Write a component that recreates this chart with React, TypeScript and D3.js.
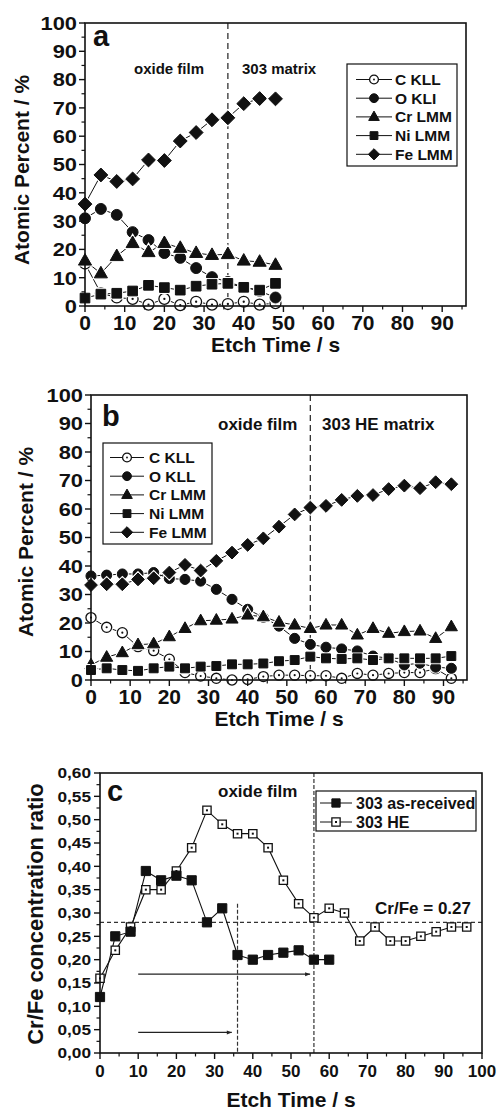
import React from 'react';
import * as d3 from 'd3';

const FONT = '"Liberation Sans", Arial, Helvetica, sans-serif';

// ---------- Panel a data ----------
const timeA = [0, 4, 8, 12, 16, 20, 24, 28, 32, 36, 40, 44, 48];
const cKllA = [15, 4.5, 3, 2.5, 0.5, 2.5, 0.3, 1.5, 0.5, 0.7, 1.5, 0.5, 1];
const oKlA = [31, 34.3, 32.2, 26.1, 23.3, 18.7, 17, 13.4, 10.2, 8.5, 6.7, 5.3, 3];
const crA = [16, 11.5, 17.6, 22.2, 19, 22.2, 20.5, 18.7, 18, 18.3, 16, 15.6, 14.5];
const niA = [2.8, 4.2, 4.5, 5.3, 7.3, 6.5, 5.6, 7, 7.7, 8, 6.6, 5.6, 8];
const feA = [36, 46.3, 44, 44.9, 51.6, 51.4, 58.3, 61.3, 65.8, 66.5, 71.5, 73.3, 73.2];
const legendA = ['C KLL', 'O KLI', 'Cr LMM', 'Ni LMM', 'Fe LMM'];
const boundaryA = 36;

// ---------- Panel b data ----------
const timeB = [0, 4, 8, 12, 16, 20, 24, 28, 32, 36, 40, 44, 48, 52, 56, 60, 64, 68, 72, 76, 80, 84, 88, 92];
const cKllB = [21.9, 18.5, 16.6, 11.7, 10.3, 7.3, 2.6, 1.4, 0.6, 0, 0.2, 1.2, 1.7, 1.7, 1.5, 1.5, 0.6, 2.3, 1.7, 2.3, 2.6, 2.6, 4, 0.6];
const oKllB = [36.5, 36.8, 37.2, 37.2, 37.7, 35.6, 35.3, 34.7, 31.8, 28.3, 24.8, 22, 18.9, 14.6, 12.5, 11.5, 10.9, 10.2, 8.4, 7.6, 5.3, 5.9, 4.5, 4.1];
const crB = [5.3, 8, 9.6, 12.4, 12.7, 15.2, 18.1, 20.8, 21, 21.4, 22.8, 22.2, 20.3, 19.3, 18.1, 19.3, 19.3, 15.8, 18.1, 16.4, 17, 17.2, 14.6, 18.7];
const niB = [3.5, 4.1, 3.5, 3.2, 4.1, 4.7, 4.1, 4.7, 4.9, 5.5, 5.5, 5.8, 6.6, 7, 8.2, 7.6, 7.4, 7.6, 7, 7.6, 7.6, 7.6, 7.6, 8.4];
const feB = [33.3, 33.6, 33.6, 35.3, 35.7, 37.7, 40.4, 38.4, 41.8, 44.7, 47.4, 49.7, 53.8, 58.1, 60.5, 61.1, 63.2, 64.6, 64.9, 67, 68.2, 67.3, 69.4, 68.7];
const legendB = ['C KLL', 'O KLL', 'Cr LMM', 'Ni LMM', 'Fe LMM'];
const boundaryB = 56;

// ---------- Panel c data ----------
const timeRecv = [0, 4, 8, 12, 16, 20, 24, 28, 32, 36, 40, 44, 48, 52, 56, 60];
const ratioRecv = [0.12, 0.25, 0.26, 0.39, 0.37, 0.38, 0.37, 0.28, 0.31, 0.21, 0.2, 0.21, 0.215, 0.22, 0.2, 0.2];
const timeHE = [0, 4, 8, 12, 16, 20, 24, 28, 32, 36, 40, 44, 48, 52, 56, 60, 64, 68, 72, 76, 80, 84, 88, 92, 96];
const ratioHE = [0.16, 0.22, 0.27, 0.35, 0.35, 0.39, 0.44, 0.52, 0.49, 0.47, 0.47, 0.44, 0.37, 0.32, 0.29, 0.31, 0.3, 0.24, 0.27, 0.24, 0.24, 0.25, 0.26, 0.27, 0.27];
const legendC = ['303 as-received', '303 HE'];
const refRatio = 0.28;
const dashRecv = { t: 36, top: 0.32 };
const dashHE = { t: 56, top: 0.6 };
const arrowLong = { from: 10, to: 55, level: 0.169 };
const arrowShort = { from: 10, to: 34.5, level: 0.044 };

// ---------- ticks ----------
const xTicksAB = [0, 10, 20, 30, 40, 50, 60, 70, 80, 90];
const yTicksAB = [0, 10, 20, 30, 40, 50, 60, 70, 80, 90, 100];
const xTicksC = [0, 10, 20, 30, 40, 50, 60, 70, 80, 90, 100];
const yTicksC = [0, 0.05, 0.1, 0.15, 0.2, 0.25, 0.3, 0.35, 0.4, 0.45, 0.5, 0.55, 0.6];
const yLabelsC = ['0,00', '0,05', '0,10', '0,15', '0,20', '0,25', '0,30', '0,35', '0,40', '0,45', '0,50', '0,55', '0,60'];

type Sym = 'circleOpen' | 'circle' | 'triangle' | 'square' | 'diamond' | 'squareOpen';

function T({ x, y, size, anchor = 'start', rot = 0, sx = 1, children }: any) {
  return (
    <text
      transform={`translate(${x},${y}) rotate(${rot}) scale(${sx},1)`}
      fontSize={size}
      fontFamily={FONT}
      fontWeight="bold"
      textAnchor={anchor}
      fill="#111"
    >
      {children}
    </text>
  );
}

function Marker({ sym, x, y, k = 1, halo = false }: { sym: Sym; x: number; y: number; k?: number; halo?: boolean }) {
  let d = '';
  if (sym === 'circle' || sym === 'circleOpen') {
    const r = 5.2 * k;
    d = `M${-r},0a${r},${r} 0 1,0 ${2 * r},0a${r},${r} 0 1,0 ${-2 * r},0Z`;
  } else if (sym === 'triangle') {
    const w = 12.5 * k, h = 11 * k;
    d = `M0,${-h * 0.62}L${w / 2},${h * 0.38}L${-w / 2},${h * 0.38}Z`;
  } else if (sym === 'square' || sym === 'squareOpen') {
    const s = 4.6 * k;
    d = `M${-s},${-s}H${s}V${s}H${-s}Z`;
  } else if (sym === 'diamond') {
    const s = 6.6 * k;
    d = `M0,${-s}L${s},0L0,${s}L${-s},0Z`;
  }
  const open = sym === 'circleOpen' || sym === 'squareOpen';
  return (
    <g transform={`translate(${x},${y})`}>
      {halo && <path d={d} fill="#fff" stroke="#fff" strokeWidth={3} />}
      <path d={d} fill={open ? '#fff' : '#111'} stroke="#111" strokeWidth={open ? 1.3 : 1} />
      {sym === 'circleOpen' && <circle r={1.1 * k} fill="#111" />}
      {sym === 'squareOpen' && <rect x={-1} y={-1} width={2} height={2} fill="#111" />}
    </g>
  );
}

function Frame({ x, y, xTicks, xMinor, yTicks, yMinor, yLabels, xFont, yFont, ySx, xBase, yGap }: any) {
  const [x0, x1] = x.range();
  const [y0, y1] = y.range();
  return (
    <g>
      <rect x={x0} y={y1} width={x1 - x0} height={y0 - y1} fill="none" stroke="#111" strokeWidth={1.6} />
      {xTicks.map((v: number) => (
        <line key={'xt' + v} x1={x(v)} x2={x(v)} y1={y0} y2={y0 + 6} stroke="#111" strokeWidth={1.4} />
      ))}
      {xMinor.map((v: number) => (
        <line key={'xm' + v} x1={x(v)} x2={x(v)} y1={y0} y2={y0 + 3.5} stroke="#111" strokeWidth={1.2} />
      ))}
      {yTicks.map((v: number) => (
        <line key={'yt' + v} x1={x0 - 6} x2={x0} y1={y(v)} y2={y(v)} stroke="#111" strokeWidth={1.4} />
      ))}
      {yMinor.map((v: number) => (
        <line key={'ym' + v} x1={x0 - 3.5} x2={x0} y1={y(v)} y2={y(v)} stroke="#111" strokeWidth={1.2} />
      ))}
      {xTicks.map((v: number) => (
        <T key={'xl' + v} x={x(v)} y={y0 + xBase} size={xFont} anchor="middle">
          {String(v)}
        </T>
      ))}
      {yTicks.map((v: number, i: number) => (
        <T key={'yl' + v} x={x0 - yGap} y={y(v) + yFont * 0.36} size={yFont} anchor="end" sx={ySx}>
          {yLabels ? yLabels[i] : String(v)}
        </T>
      ))}
    </g>
  );
}

function ElementPanel({ box, time, series, legend, legendBox, boundary, title, texts, yTitle }: any) {
  const x = d3.scaleLinear().domain([0, 96]).range([box.l, box.r]);
  const y = d3.scaleLinear().domain([0, 100]).range([box.b, box.t]);
  const syms: Sym[] = ['circleOpen', 'circle', 'triangle', 'square', 'diamond'];
  const line = d3
    .line<number>()
    .x((_, i) => x(time[i]))
    .y((d) => y(d));
  const xMinor = xTicksAB.map((v) => v + 5).filter((v) => v <= 96);
  const yMinor = yTicksAB.map((v) => v + 5).filter((v) => v <= 100);
  const k = box.k;
  return (
    <g>
      <line x1={x(boundary)} x2={x(boundary)} y1={box.t} y2={box.b} stroke="#333" strokeWidth={1.3} strokeDasharray="6,4" />
      {series.map((s: number[], si: number) => (
        <path key={'l' + si} d={line(s) || ''} fill="none" stroke="#111" strokeWidth={1} />
      ))}
      {series.map((s: number[], si: number) =>
        s.map((v, i) => <Marker key={si + '-' + i} sym={syms[si]} x={x(time[i])} y={y(v)} k={k} halo />)
      )}
      <Frame
        x={x}
        y={y}
        xTicks={xTicksAB}
        xMinor={xMinor}
        yTicks={yTicksAB}
        yMinor={yMinor}
        xFont={21}
        yFont={19}
        ySx={1.15}
        xBase={24}
        yGap={8}
      />
      <T x={title.x} y={title.y} size={29}>{title.text}</T>
      {texts.map((t: any, i: number) => (
        <T key={'tx' + i} x={t.x} y={t.y} size={t.size}>{t.text}</T>
      ))}
      <rect x={legendBox.x} y={legendBox.y} width={legendBox.w} height={legendBox.h} fill="#fff" stroke="#111" strokeWidth={1.2} />
      {legend.map((lab: string, i: number) => {
        const ry = legendBox.row0 + i * 18.7;
        return (
          <g key={'lg' + i}>
            <line x1={legendBox.lx0} x2={legendBox.lx1} y1={ry} y2={ry} stroke="#111" strokeWidth={1} />
            <Marker sym={syms[i]} x={(legendBox.lx0 + legendBox.lx1) / 2} y={ry} k={0.85} />
            <T x={legendBox.tx} y={ry + 5.5} size={15.5}>{lab}</T>
          </g>
        );
      })}
      <T x={(box.l + box.r) / 2} y={box.b + 46} size={21} anchor="middle">Etch Time / s</T>
      <T x={yTitle.x} y={yTitle.y} size={21} anchor="middle" rot={-90}>Atomic Percent / %</T>
    </g>
  );
}

function RatioPanel() {
  const box = { l: 100, r: 482, t: 773, b: 1053 };
  const x = d3.scaleLinear().domain([0, 100]).range([box.l, box.r]);
  const y = d3.scaleLinear().domain([0, 0.6]).range([box.b, box.t]);
  const lineR = d3.line<number>().x((_, i) => x(timeRecv[i])).y((d) => y(d));
  const lineH = d3.line<number>().x((_, i) => x(timeHE[i])).y((d) => y(d));
  const xMinor = xTicksC.map((v) => v + 5).filter((v) => v <= 100);
  const yMinor = yTicksC.map((v) => +(v + 0.025).toFixed(3)).filter((v) => v <= 0.6);
  return (
    <g>
      <defs>
        <marker id="arr" viewBox="0 0 10 10" refX="10" refY="5" markerWidth="7" markerHeight="5" orient="auto" markerUnits="userSpaceOnUse">
          <path d="M0,1L10,5L0,9Z" fill="#222" />
        </marker>
      </defs>
      <line x1={box.l} x2={box.r} y1={y(refRatio)} y2={y(refRatio)} stroke="#333" strokeWidth={1.2} strokeDasharray="4,3" />
      <line x1={x(dashRecv.t)} x2={x(dashRecv.t)} y1={y(dashRecv.top)} y2={box.b} stroke="#333" strokeWidth={1.2} strokeDasharray="4,2" />
      <line x1={x(dashHE.t)} x2={x(dashHE.t)} y1={y(dashHE.top)} y2={box.b} stroke="#333" strokeWidth={1.2} strokeDasharray="4,2" />
      {[arrowLong, arrowShort].map((a, i) => (
        <line key={'ar' + i} x1={x(a.from)} x2={x(a.to)} y1={y(a.level)} y2={y(a.level)} stroke="#222" strokeWidth={1.3} markerEnd="url(#arr)" />
      ))}
      <path d={lineH(ratioHE) || ''} fill="none" stroke="#111" strokeWidth={1.1} />
      <path d={lineR(ratioRecv) || ''} fill="none" stroke="#111" strokeWidth={1.1} />
      {ratioHE.map((v, i) => (
        <Marker key={'h' + i} sym="squareOpen" x={x(timeHE[i])} y={y(v)} k={0.9} />
      ))}
      {ratioRecv.map((v, i) => (
        <Marker key={'r' + i} sym="square" x={x(timeRecv[i])} y={y(v)} k={1.0} />
      ))}
      <Frame
        x={x}
        y={y}
        xTicks={xTicksC}
        xMinor={xMinor}
        yTicks={yTicksC}
        yMinor={yMinor}
        yLabels={yLabelsC}
        xFont={17}
        yFont={15}
        ySx={1.15}
        xBase={24}
        yGap={9}
      />
      <T x={107} y={801} size={29}>c</T>
      <T x={218} y={797} size={17}>oxide film</T>
      <T x={471} y={914} size={17} anchor="end">Cr/Fe = 0.27</T>
      <rect x={316} y={791} width={160} height={40} fill="#fff" stroke="#111" strokeWidth={1.2} />
      {legendC.map((lab, i) => {
        const ry = 803 + i * 19;
        return (
          <g key={'lc' + i}>
            <line x1={320} x2={352} y1={ry} y2={ry} stroke="#111" strokeWidth={1} />
            <Marker sym={i === 0 ? 'square' : 'squareOpen'} x={336} y={ry} k={0.9} />
            <T x={356} y={ry + 6} size={16}>{lab}</T>
          </g>
        );
      })}
      <T x={(box.l + box.r) / 2} y={1107} size={21} anchor="middle">Etch Time / s</T>
      <T x={43} y={914} size={22} anchor="middle" rot={-90}>Cr/Fe concentration ratio</T>
    </g>
  );
}

export default function App() {
  return (
    <svg width={497} height={1112} style={{ position: 'absolute', left: 0, top: 0, background: '#fff' }}>
      <rect width={497} height={1112} fill="#fff" />
      <ElementPanel
        box={{ l: 85, r: 466, t: 23, b: 306, k: 1.05 }}
        time={timeA}
        series={[cKllA, oKlA, crA, niA, feA]}
        legend={legendA}
        legendBox={{ x: 347, y: 64, w: 110, h: 102, row0: 79.5, lx0: 356, lx1: 392, tx: 395 }}
        boundary={boundaryA}
        title={{ x: 93, y: 46, text: 'a' }}
        texts={[
          { x: 134, y: 74, size: 15, text: 'oxide film' },
          { x: 242, y: 74, size: 15, text: '303 matrix' },
        ]}
        yTitle={{ x: 29, y: 170 }}
      />
      <ElementPanel
        box={{ l: 91, r: 467, t: 395, b: 680, k: 0.97 }}
        time={timeB}
        series={[cKllB, oKllB, crB, niB, feB]}
        legend={legendB}
        legendBox={{ x: 103, y: 443, w: 109, h: 101, row0: 457.5, lx0: 110, lx1: 144, tx: 149 }}
        boundary={boundaryB}
        title={{ x: 102, y: 426, text: 'b' }}
        texts={[
          { x: 218, y: 430, size: 17, text: 'oxide film' },
          { x: 322, y: 430, size: 17, text: '303 HE matrix' },
        ]}
        yTitle={{ x: 33, y: 542 }}
      />
      <RatioPanel />
    </svg>
  );
}
